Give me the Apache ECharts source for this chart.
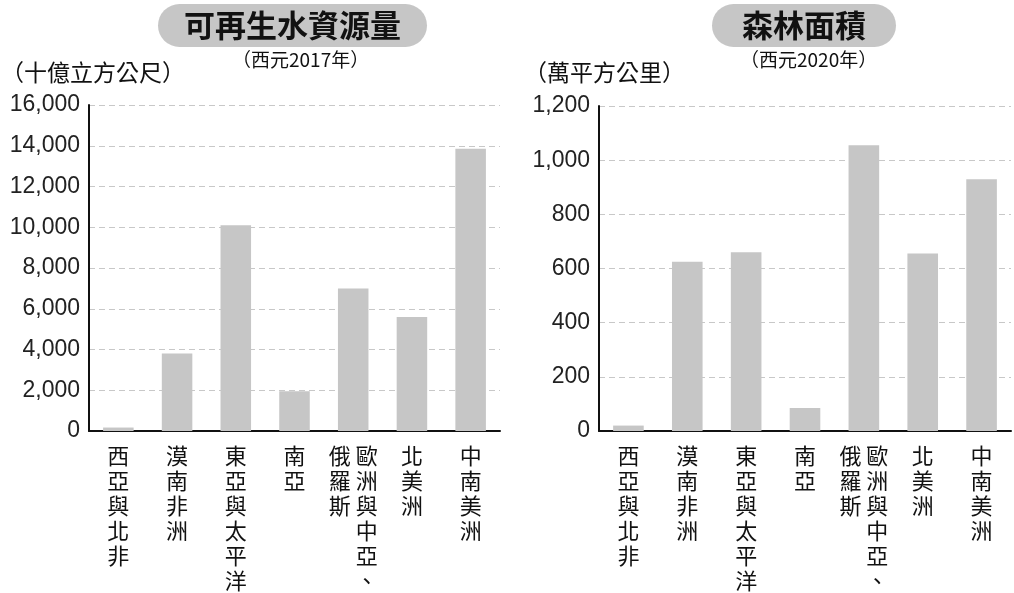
<!DOCTYPE html>
<html>
<head>
<meta charset="utf-8">
<script src="https://cdn.jsdelivr.net/npm/echarts@6/dist/echarts.min.js"></script>
<style>
html,body{margin:0;padding:0;background:#fff;}
#chart{width:1014px;height:593px;}
</style>
</head>
<body>
<div id="chart"></div>
<script>
const regions = ['西亞與北非','漠南非洲','東亞與太平洋','南亞','歐洲與中亞、俄羅斯','北美洲','中南美洲'];
const waterValues = [170, 3800, 10100, 1950, 7000, 5600, 13850];
const forestValues = [20, 625, 660, 85, 1055, 655, 930];
const waterTicks = {min: 0, max: 16000, interval: 2000};
const forestTicks = {min: 0, max: 1200, interval: 200};
const waterTitle = '可再生水資源量';
const waterYear = '（西元2017年）';
const waterUnit = '（十億立方公尺）';
const forestTitle = '森林面積';
const forestYear = '（西元2020年）';
const forestUnit = '（萬平方公里）';

const CJK = '"Noto Sans CJK TC","Noto Sans CJK JP",sans-serif';
const NUM = '"Liberation Sans",Arial,sans-serif';

function verticalLabel(name) {
  const i = name.indexOf('、');
  if (i >= 0 && i < name.length - 1) {
    const right = Array.from(name.slice(0, i + 1));
    const left = Array.from(name.slice(i + 1));
    const n = Math.max(left.length, right.length);
    const rows = [];
    for (let k = 0; k < n; k++) {
      rows.push((left[k] || '\u3000') + ' ' + (right[k] || '\u3000'));
    }
    return rows.join('\n');
  }
  return Array.from(name).join('\n');
}
function commas(v) { return String(v).replace(/\B(?=(\d{3})+(?!\d))/g, ','); }

function xAxis(idx) {
  return {
    type: 'category', gridIndex: idx, data: regions,
    axisLine: {lineStyle: {color: '#111', width: 2}},
    axisTick: {show: false},
    axisLabel: {
      interval: 0, margin: 12, fontSize: 22, lineHeight: 25,
      color: '#111', fontFamily: CJK, formatter: verticalLabel
    }
  };
}
function yAxis(idx, t) {
  return {
    type: 'value', gridIndex: idx, min: t.min, max: t.max, interval: t.interval,
    axisLine: {show: true, lineStyle: {color: '#111', width: 2}},
    axisTick: {show: false},
    splitLine: {lineStyle: {color: '#c8c8c8', type: [6, 4], width: 1}},
    axisLabel: {margin: 9, fontSize: 23, color: '#222', fontFamily: NUM, formatter: commas}
  };
}
function pill(text, left, top, padH) {
  return {
    text: text, left: left, top: top,
    backgroundColor: '#c6c6c6', borderRadius: 22,
    padding: [6, padH, 6, padH],
    textStyle: {fontSize: 31, fontWeight: 'bold', color: '#111', fontFamily: CJK, lineHeight: 31}
  };
}
function plain(text, left, top, size) {
  return {
    text: text, left: left, top: top, padding: 0,
    textStyle: {fontSize: size, fontWeight: 'normal', color: '#111', fontFamily: CJK}
  };
}

const chart = echarts.init(document.getElementById('chart'), null, {renderer: 'canvas'});
chart.setOption({
  backgroundColor: '#fff',
  animation: false,
  title: [
    pill(waterTitle, 158, 4, 26),
    pill(forestTitle, 712, 4, 30),
    plain(waterYear, 232, 50, 19),
    plain(forestYear, 740, 50, 19),
    plain(waterUnit, 1, 61, 23),
    plain(forestUnit, 524, 61, 23)
  ],
  grid: [
    {left: 89, top: 105, width: 411, height: 328},
    {left: 599, top: 106, width: 412, height: 328}
  ],
  xAxis: [xAxis(0), xAxis(1)],
  yAxis: [yAxis(0, waterTicks), yAxis(1, forestTicks)],
  series: [
    {type: 'bar', xAxisIndex: 0, yAxisIndex: 0, data: waterValues, barWidth: '52%',
     itemStyle: {color: '#c6c6c6'}},
    {type: 'bar', xAxisIndex: 1, yAxisIndex: 1, data: forestValues, barWidth: '52%',
     itemStyle: {color: '#c6c6c6'}}
  ]
});
</script>
</body>
</html>
